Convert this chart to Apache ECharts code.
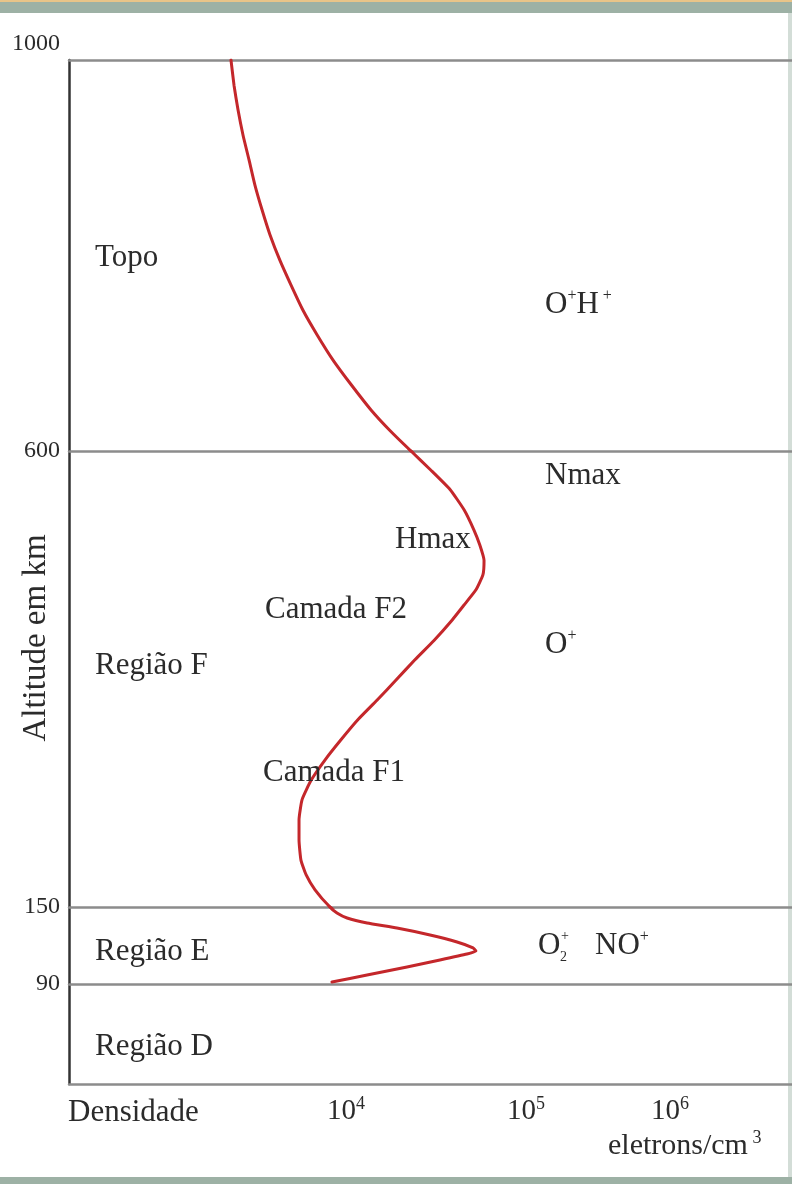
<!DOCTYPE html>
<html><head><meta charset="utf-8">
<script src="https://cdn.jsdelivr.net/npm/echarts@6/dist/echarts.min.js"></script>
<style>html,body{margin:0;padding:0;background:#fff}#c{width:792px;height:1184px}</style>
</head><body><div id="c"></div>
<script>
// ---- data (altitude in km, density as log10 electrons/cm3) ----
const altitudeKm = [1000, 974, 949, 923, 898, 872, 847, 821, 795, 770, 744, 719, 693, 668, 642, 621, 600,
  581, 562, 542, 522, 507, 492, 478, 463, 448, 433, 413, 394, 374, 354, 335, 315, 295, 275, 256, 236, 216, 196, 182, 167, 150,
  145.3, 141.4, 137.5, 133.6, 128.2, 122.7, 118.1, 115.7, 113.4, 108.7, 103.2, 97.0, 91.6];
const densityExp = [3.361, 3.378, 3.400, 3.428, 3.461, 3.494, 3.533, 3.578, 3.633, 3.694, 3.761, 3.839, 3.928, 4.028, 4.139, 4.244, 4.361,
  4.472, 4.578, 4.656, 4.711, 4.744, 4.767, 4.761, 4.722, 4.656, 4.589, 4.489, 4.383, 4.278, 4.172, 4.067, 3.972, 3.883, 3.806, 3.756, 3.739, 3.739, 3.750, 3.778, 3.828, 3.911,
  3.950, 4.006, 4.117, 4.283, 4.467, 4.617, 4.706, 4.722, 4.672, 4.522, 4.339, 4.117, 3.922];
const altitudeTicks = [1000, 600, 150, 90];
const regionRanges = [[600, 1000], [150, 600], [90, 150], [0, 90]];
const densityTickExp = [4, 5, 6];

// ---- layout ----
const FONT = 'Liberation Serif';
const TXT = '#2b2b2b';
const GRID_LEFT = 69;
const gridTops = [60, 451, 907, 984, 1083];
const gridHeights = [391, 456, 77, 100, 1];
const X_MIN = 2.461;
const X_MAX_PLAIN = 6.478;          // same pixel scale, no break
const X_MAX_BROKEN = 6.678;         // with the 10^5-10^6 decade compressed
const X_BREAKS = [{ start: 5, end: 6, gap: 0.8 }];

const grids = gridTops.map((t, i) => ({ left: GRID_LEFT, right: 0, top: t, height: gridHeights[i], show: false }));

function lineAxis(i, pos) {
  return {
    type: 'value', gridIndex: i, position: pos, min: X_MIN, max: X_MAX_PLAIN,
    axisLine: { show: true, onZero: false, lineStyle: { color: '#8c8c8c', width: 2.5 } },
    axisTick: { show: false }, splitLine: { show: false }, axisLabel: { show: false }
  };
}

const xAxes = [];
for (let i = 0; i < 4; i++) xAxes.push(lineAxis(i, 'top'));
xAxes.push(lineAxis(3, 'bottom'));
xAxes.push({
  type: 'value', gridIndex: 4, position: 'bottom', min: X_MIN, max: X_MAX_BROKEN,
  breaks: X_BREAKS, breakArea: { show: false },
  axisLine: { show: false }, axisTick: { show: false }, splitLine: { show: false },
  axisLabel: {
    show: true, customValues: densityTickExp, margin: 11,
    formatter: v => '{b|10}{s|' + Math.round(v) + '}',
    rich: {
      b: { fontFamily: FONT, fontSize: 29, color: TXT, lineHeight: 32 },
      s: { fontFamily: FONT, fontSize: 18, color: TXT, lineHeight: 16, verticalAlign: 'top' }
    }
  }
});

const yAxes = regionRanges.map((r, i) => ({
  type: 'value', gridIndex: i, min: r[0], max: r[1],
  axisLine: { show: true, onZero: false, lineStyle: { color: '#333', width: 2.5 } },
  axisTick: { show: false }, splitLine: { show: false },
  axisLabel: {
    show: true, customValues: [altitudeTicks[i]], margin: 9,
    formatter: v => String(v),
    fontFamily: FONT, fontSize: 24, color: TXT,
    verticalAlign: i === 0 ? 'bottom' : 'middle',
    padding: i === 0 ? [0, 0, 4, 0] : 0
  }
}));
yAxes.push({ type: 'value', gridIndex: 4, min: 0, max: 1, show: false });

// each region's piece keeps one neighbour point on each side (clipped) so the curve stays smooth across boundaries
const series = regionRanges.slice(0, 3).map((r, i) => {
  const idx = [];
  altitudeKm.forEach((a, k) => { if (a >= r[0] && a <= r[1]) idx.push(k); });
  const lo = Math.max(0, idx[0] - 1), hi = Math.min(altitudeKm.length - 1, idx[idx.length - 1] + 1);
  const data = [];
  for (let k = lo; k <= hi; k++) data.push([densityExp[k], altitudeKm[k]]);
  return {
    type: 'line', xAxisIndex: i, yAxisIndex: i, data: data,
    smooth: 0.15, showSymbol: false, symbol: 'none', clip: true,
    lineStyle: { color: '#c4272b', width: 3, cap: 'round', join: 'round' },
    animation: false
  };
});

function txt(x, y, text, size, extra) {
  return Object.assign({ type: 'text', x: x, y: y, z: 100,
    style: { text: text, fontFamily: FONT, fontSize: size || 31, fill: TXT, align: 'left', verticalAlign: 'middle' } }, extra || {});
}
const supRich = { s: { fontFamily: FONT, fontSize: 16, fill: TXT, lineHeight: 14, verticalAlign: 'top' },
                  n: { fontFamily: FONT, fontSize: 31, fill: TXT, lineHeight: 34 } };

const graphic = [
  { type: 'rect', shape: { x: 0, y: 0, width: 792, height: 2 }, style: { fill: '#e8c489' } },
  { type: 'rect', shape: { x: 0, y: 2, width: 792, height: 11 }, style: { fill: '#9db1a5' } },
  { type: 'rect', shape: { x: 0, y: 1177, width: 792, height: 7 }, style: { fill: '#9db1a5' } },
  { type: 'rect', shape: { x: 788, y: 13, width: 4, height: 1164 }, style: { fill: '#d3ddd7' } },
  txt(95, 258, 'Topo'),
  { type: 'text', x: 545, y: 305, z: 100, style: { text: '{n|O}{s|+}{n|H}{s| +}', rich: supRich, align: 'left', verticalAlign: 'middle' } },
  txt(545, 476, 'Nmax'),
  txt(395, 540, 'Hmax'),
  txt(265, 610, 'Camada F2'),
  { type: 'text', x: 545, y: 645, z: 100, style: { text: '{n|O}{s|+}', rich: supRich, align: 'left', verticalAlign: 'middle' } },
  txt(95, 666, 'Região F'),
  txt(263, 773, 'Camada F1'),
  txt(95, 952, 'Região E'),
  txt(538, 946, 'O'),
  txt(561, 936, '+', 14),
  txt(560, 957, '2', 14),
  { type: 'text', x: 595, y: 946, z: 100, style: { text: '{n|NO}{s|+}', rich: supRich, align: 'left', verticalAlign: 'middle' } },
  txt(95, 1047, 'Região D'),
  txt(68, 1113, 'Densidade'),
  { type: 'text', x: 608, y: 1146, z: 100, style: { text: '{n|eletrons/cm}{s| 3}', rich: { n: { fontFamily: FONT, fontSize: 30, fill: TXT, lineHeight: 34 }, s: { fontFamily: FONT, fontSize: 18, fill: TXT, lineHeight: 18, verticalAlign: 'top' } }, align: 'left', verticalAlign: 'middle' } },
  { type: 'text', x: 36, y: 638, z: 100, rotation: Math.PI / 2, style: { text: 'Altitude em km', fontFamily: FONT, fontSize: 33, fill: TXT, align: 'center', verticalAlign: 'middle' } }
];

const chart = echarts.init(document.getElementById('c'), null, { renderer: 'canvas' });
chart.setOption({
  backgroundColor: '#ffffff',
  animation: false,
  grid: grids,
  xAxis: xAxes,
  yAxis: yAxes,
  series: series,
  graphic: graphic
});
</script></body></html>
